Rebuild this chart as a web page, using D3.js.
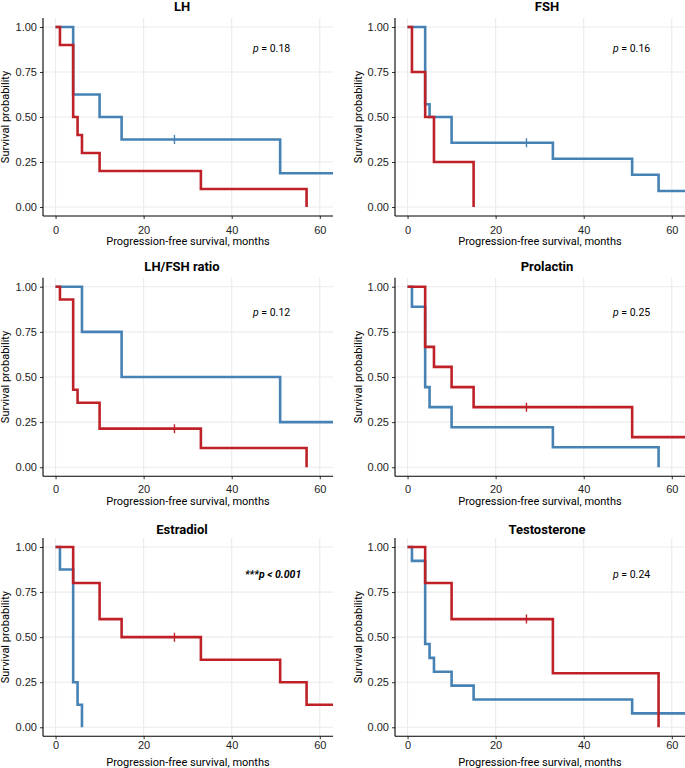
<!DOCTYPE html>
<html>
<head>
<meta charset="utf-8">
<script src="https://cdn.jsdelivr.net/npm/d3@7"></script>
<style>
  html, body { margin: 0; padding: 0; background: #fff; }
  svg { display: block; font-family: Roboto, "Liberation Sans", Arial, sans-serif; }
</style>
</head>
<body>
<svg id="chart" width="685" height="768"></svg>
<script>
// ---- data ----
const panelTitles = ["LH", "FSH", "LH/FSH ratio", "Prolactin", "Estradiol", "Testosterone"];
const xTicks = [0, 20, 40, 60];
const yTicks = [0, 0.25, 0.5, 0.75, 1];
const yTickLabels = ["0.00", "0.25", "0.50", "0.75", "1.00"];
const xTitle = "Progression-free survival, months";
const yTitle = "Survival probability";

// step curves: [time, survival] (survival changes at time)
const blueCurves = [
  [[0, 1], [4, 0.625], [10, 0.5], [15, 0.375], [51, 0.1875]],
  [[0, 1], [4, 0.571], [5, 0.5], [10, 0.357], [33, 0.268], [51, 0.179], [57, 0.089]],
  [[0, 1], [6, 0.75], [15, 0.5], [51, 0.25]],
  [[0, 1], [1, 0.889], [4, 0.444], [5, 0.333], [10, 0.222], [33, 0.111], [57, 0]],
  [[0, 1], [1, 0.875], [4, 0.25], [5, 0.125], [6, 0]],
  [[0, 1], [1, 0.923], [4, 0.462], [5, 0.385], [6, 0.308], [10, 0.231], [15, 0.154], [51, 0.077]]
];
const redCurves = [
  [[0, 1], [1, 0.9], [4, 0.5], [5, 0.4], [6, 0.3], [10, 0.2], [33, 0.1], [57, 0]],
  [[0, 1], [1, 0.75], [4, 0.5], [6, 0.25], [15, 0]],
  [[0, 1], [1, 0.929], [4, 0.429], [5, 0.357], [10, 0.214], [33, 0.107], [57, 0]],
  [[0, 1], [4, 0.667], [6, 0.556], [10, 0.444], [15, 0.333], [51, 0.167]],
  [[0, 1], [4, 0.8], [10, 0.6], [15, 0.5], [33, 0.375], [51, 0.25], [57, 0.125]],
  [[0, 1], [4, 0.8], [10, 0.6], [33, 0.3], [57, 0]]
];
const blueEnd = [70, 70, 70, 57, 6, 70];
const redEnd = [57, 15, 57, 70, 70, 57];
const blueCensor = [27, 27, null, null, null, null];
const redCensor = [null, null, 27, 27, 27, 27];
const pPrefix = ["", "", "", "", "***", ""];
const pRest = [" = 0.18", " = 0.16", " = 0.12", " = 0.25", " < 0.001", " = 0.24"];
const pBold = [false, false, false, false, true, false];

// ---- style / layout ----
const BLUE = "#4682B4";
const RED = "#BE2228";
const GRID = "#EBEBEB";
const colLayout = [
  { axisX: 43, right: 333, titleX: 182, xTitleX: 188, yTitleX: 9, pX: 253 },
  { axisX: 395, right: 685, titleX: 547, xTitleX: 540, yTitleX: 362, pX: 613 }
];
const rowLayout = [
  { top: 18, bottom: 216, titleY: 11, tickY: 234, xTitleY: 245, pY: 52 },
  { top: 277.7, bottom: 476.3, titleY: 271, tickY: 493, xTitleY: 505, pY: 315.5 },
  { top: 538, bottom: 736.3, titleY: 534, tickY: 749.5, xTitleY: 766, pY: 578 }
];

const svg = d3.select("#chart");
const defs = svg.append("defs");

panelTitles.forEach((title, i) => {
  const c = colLayout[i % 2], r = rowLayout[Math.floor(i / 2)];
  const x = d3.scaleLinear().domain([-2.85, 63]).range([c.axisX, c.right]);
  const y = d3.scaleLinear().domain([-0.05, 1.05]).range([r.bottom, r.top]);
  const g = svg.append("g");

  defs.append("clipPath").attr("id", "clip" + i)
    .append("rect").attr("x", c.axisX).attr("y", r.top - 5)
    .attr("width", c.right - c.axisX).attr("height", r.bottom - r.top + 10);

  // grid
  g.append("g").selectAll("line").data(xTicks).join("line")
    .attr("x1", d => x(d)).attr("x2", d => x(d))
    .attr("y1", r.top).attr("y2", r.bottom)
    .attr("stroke", GRID).attr("stroke-width", 1.1);
  g.append("g").selectAll("line").data(yTicks).join("line")
    .attr("x1", c.axisX).attr("x2", c.right)
    .attr("y1", d => y(d)).attr("y2", d => y(d))
    .attr("stroke", GRID).attr("stroke-width", 1.1);

  // axes
  const xAxis = d3.axisBottom(x).tickValues(xTicks).tickSize(3).tickPadding(3);
  const yAxis = d3.axisLeft(y).tickValues(yTicks).tickSize(3).tickPadding(3)
    .tickFormat((d, k) => yTickLabels[k]);
  const gx = g.append("g").attr("transform", `translate(0,${r.bottom})`).call(xAxis);
  const gy = g.append("g").attr("transform", `translate(${c.axisX},0)`).call(yAxis);
  [gx, gy].forEach(a => {
    a.select(".domain").remove();
    a.selectAll(".tick line").attr("stroke", "#333").attr("stroke-width", 1);
    a.selectAll(".tick text").attr("fill", "#222").style("font-size", "11px");
  });
  gx.selectAll(".tick text").attr("y", null).attr("dy", null)
    .attr("y", r.tickY - r.bottom);
  g.append("line").attr("x1", c.axisX).attr("x2", c.right)
    .attr("y1", r.bottom).attr("y2", r.bottom).attr("stroke", "#000").attr("stroke-width", 1.1);
  g.append("line").attr("x1", c.axisX).attr("x2", c.axisX)
    .attr("y1", r.top).attr("y2", r.bottom).attr("stroke", "#000").attr("stroke-width", 1.1);

  // curves
  const line = d3.line().x(d => x(d[0])).y(d => y(d[1])).curve(d3.curveStepAfter);
  const curves = g.append("g").attr("clip-path", `url(#clip${i})`);
  const drawCurve = (pts, end, color, censor) => {
    const data = pts.concat([[end, pts[pts.length - 1][1]]]);
    curves.append("path").attr("d", line(data)).attr("fill", "none")
      .attr("stroke", color).attr("stroke-width", 2.6).attr("stroke-linejoin", "miter");
    if (censor != null) {
      let s = pts[0][1];
      pts.forEach(p => { if (p[0] <= censor) s = p[1]; });
      curves.append("line").attr("x1", x(censor)).attr("x2", x(censor))
        .attr("y1", y(s) - 4.5).attr("y2", y(s) + 4.5)
        .attr("stroke", color).attr("stroke-width", 1.4);
    }
  };
  drawCurve(blueCurves[i], blueEnd[i], BLUE, blueCensor[i]);
  drawCurve(redCurves[i], redEnd[i], RED, redCensor[i]);

  // titles
  g.append("text").attr("x", c.titleX).attr("y", r.titleY).attr("text-anchor", "middle")
    .style("font-size", "13px").style("font-weight", "bold").attr("fill", "#000").text(title);
  g.append("text").attr("x", c.xTitleX).attr("y", r.xTitleY).attr("text-anchor", "middle")
    .style("font-size", "11px").attr("fill", "#000").text(xTitle);
  g.append("text").attr("transform", `translate(${c.yTitleX},${(r.top + r.bottom) / 2}) rotate(-90)`)
    .attr("text-anchor", "middle").style("font-size", "11px").attr("fill", "#000").text(yTitle);

  // p value
  const pt = g.append("text").attr("x", pBold[i] ? c.pX - 8 : c.pX).attr("y", r.pY)
    .style("font-size", "10.5px").attr("fill", "#000");
  if (pBold[i]) {
    pt.style("font-weight", "bold").style("font-style", "italic");
    pt.append("tspan").text(pPrefix[i]);
    pt.append("tspan").text("p");
    pt.append("tspan").text(pRest[i]);
  } else {
    pt.append("tspan").style("font-style", "italic").text("p");
    pt.append("tspan").text(pRest[i]);
  }
});
</script>
</body>
</html>
